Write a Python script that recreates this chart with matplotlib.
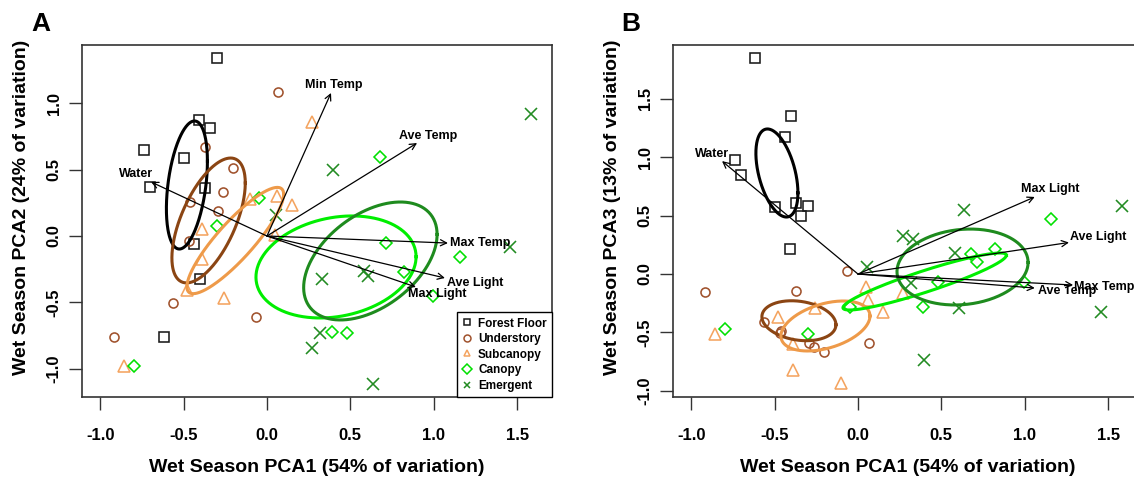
import numpy as np
import matplotlib
matplotlib.use('Agg')
import matplotlib.pyplot as plt
from matplotlib.lines import Line2D

plt.rcParams['font.family'] = ['Liberation Sans', 'DejaVu Sans']
plt.rcParams['axes.unicode_minus'] = False

groups = ['Forest Floor', 'Understory', 'Subcanopy', 'Canopy', 'Emergent']
point_colors = ['#1a1a1a', '#A0522D', '#F4A460', '#00E000', '#228B22']
ellipse_colors = ['#000000', '#8B4513', '#EE9A49', '#00EE00', '#1E8B1E']
markers = ['s', 'o', '^', 'D', 'x']
marker_sizes = [7.5, 6.5, 9, 6.5, 8]

# sample scores (PC1, PC2, PC3) per canopy stratum
floor_pc1 = [-0.30, -0.41, -0.34, -0.74, -0.50, -0.70, -0.37, -0.44, -0.40, -0.62]
floor_pc2 = [1.34, 0.87, 0.81, 0.65, 0.59, 0.37, 0.36, -0.06, -0.32, -0.76]
floor_pc3 = [0.58, 0.21, 0.50, 0.98, 0.57, 0.85, 0.61, 1.17, 1.35, 1.85]

under_pc1 = [0.066, -0.372, -0.204, -0.264, -0.294, -0.46, -0.47, -0.564, -0.92, -0.066]
under_pc2 = [1.084, 0.67, 0.512, 0.331, 0.188, 0.256, -0.04, -0.505, -0.76, -0.61]
under_pc3 = [-0.59, -0.146, -0.668, -0.625, -0.59, -0.49, -0.505, -0.41, -0.154, 0.026]

subcan_pc1 = [0.27, -0.10, 0.06, 0.15, -0.39, -0.39, -0.48, -0.258, -0.857, 0.048]
subcan_pc2 = [0.86, 0.28, 0.30, 0.23, 0.05, -0.17, -0.41, -0.47, -0.98, 0.007]
subcan_pc3 = [-0.165, -0.93, -0.22, -0.325, -0.60, -0.82, -0.37, -0.29, -0.51, -0.11]

canopy_pc1 = [0.677, -0.048, -0.30, -0.80, 0.713, 1.157, 0.82, 0.995, 0.39, 0.48]
canopy_pc2 = [0.595, 0.286, 0.075, -0.98, -0.053, -0.158, -0.27, -0.45, -0.72, -0.73]
canopy_pc3 = [0.17, -0.28, -0.51, -0.47, 0.10, 0.47, 0.21, -0.07, -0.28, -0.07]

emerg_pc1 = [1.583, 0.395, 0.054, 1.457, 0.33, 0.58, 0.605, 0.318, 0.27, 0.635]
emerg_pc2 = [0.92, 0.497, 0.158, -0.08, -0.32, -0.26, -0.30, -0.73, -0.84, -1.115]
emerg_pc3 = [0.58, -0.735, 0.06, -0.325, 0.30, 0.18, -0.29, -0.08, 0.325, 0.55]

# group ellipses: centre, half extent in x / y, correlation
ell_a_cx = [-0.48, -0.35, -0.19, 0.414, 0.62]
ell_a_cy = [0.384, 0.117, -0.034, -0.233, -0.188]
ell_a_hx = [0.123, 0.22, 0.29, 0.48, 0.40]
ell_a_hy = [0.482, 0.47, 0.40, 0.384, 0.444]
ell_a_r = [0.37, 0.6, 0.87, 0.2, 0.45]

ell_b_cx = [-0.486, -0.354, -0.195, 0.40, 0.627]
ell_b_cy = [0.865, -0.40, -0.445, -0.064, 0.06]
ell_b_hx = [0.126, 0.222, 0.267, 0.49, 0.393]
ell_b_hy = [0.377, 0.171, 0.214, 0.244, 0.325]
ell_b_r = [-0.45, -0.2, 0.4, 0.92, 0.12]

# environmental vectors
vars_a = ['Min Temp', 'Ave Temp', 'Max Temp', 'Ave Light', 'Max Light', 'Water']
arrow_a_x = [0.384, 0.90, 1.085, 1.067, 0.893, -0.695]
arrow_a_y = [1.077, 0.70, -0.053, -0.316, -0.384, 0.407]
label_a_x = [0.40, 0.965, 1.097, 1.079, 1.019, -0.785]
label_a_y = [1.14, 0.753, -0.053, -0.354, -0.437, 0.467]
label_a_ha = ['center', 'center', 'left', 'left', 'center', 'center']

vars_b = ['Water', 'Max Light', 'Ave Light', 'Ave Temp', 'Max Temp']
arrow_b_x = [-0.815, 1.06, 1.265, 1.06, 1.29]
arrow_b_y = [0.967, 0.66, 0.27, -0.12, -0.094]
label_b_x = [-0.875, 1.151, 1.271, 1.079, 1.295]
label_b_y = [1.027, 0.728, 0.317, -0.146, -0.111]
label_b_ha = ['center', 'center', 'left', 'left', 'left']

pc1 = [floor_pc1, under_pc1, subcan_pc1, canopy_pc1, emerg_pc1]
pc2 = [floor_pc2, under_pc2, subcan_pc2, canopy_pc2, emerg_pc2]
pc3 = [floor_pc3, under_pc3, subcan_pc3, canopy_pc3, emerg_pc3]


def draw_ellipse(ax, cx, cy, hx, hy, r, color):
    t = np.linspace(0, 2 * np.pi, 300)
    x = cx + hx * np.cos(t)
    y = cy + hy * (r * np.cos(t) + np.sqrt(1 - r * r) * np.sin(t))
    ax.plot(x, y, color=color, lw=2.2, zorder=3)


def draw_panel(ax, ys, ell, arrows, ylim, yticks, ylabel):
    for i in range(len(groups)):
        ax.plot(pc1[i], ys[i], linestyle='none', marker=markers[i],
                ms=marker_sizes[i], mfc='none', mec=point_colors[i],
                mew=1.15, zorder=2)
    cx, cy, hx, hy, rr = ell
    for i in range(len(groups)):
        draw_ellipse(ax, cx[i], cy[i], hx[i], hy[i], rr[i], ellipse_colors[i])
    names, ax_x, ax_y, lx, ly, lha = arrows
    for j in range(len(names)):
        ax.annotate('', xy=(ax_x[j], ax_y[j]), xytext=(0, 0),
                    arrowprops=dict(arrowstyle='->', lw=0.9, color='black',
                                    shrinkA=0, shrinkB=0, mutation_scale=11),
                    zorder=4)
        ax.text(lx[j], ly[j], names[j], ha=lha[j], va='center',
                fontsize=9, fontweight='bold', zorder=5)
    ax.set_xlim(-1.109, 1.709)
    ax.set_ylim(*ylim)
    ax.set_xticks([-1.0, -0.5, 0.0, 0.5, 1.0, 1.5])
    ax.set_xticklabels(['%.1f' % v for v in [-1.0, -0.5, 0.0, 0.5, 1.0, 1.5]],
                       fontweight='bold')
    ax.set_yticks(yticks)
    ax.set_yticklabels(['%.1f' % v for v in yticks], fontweight='bold',
                       rotation=90, va='center')
    ax.tick_params(length=9.5, width=1, labelsize=12, color='#333333')
    ax.tick_params(axis='x', pad=13)
    ax.tick_params(axis='y', pad=5)
    for s in ax.spines.values():
        s.set_linewidth(1.2)
        s.set_color('#333333')
    ax.set_xlabel('Wet Season PCA1 (54% of variation)', fontsize=14,
                  fontweight='bold', va='center')
    ax.xaxis.set_label_coords(0.5, -0.2017)
    ax.set_ylabel(ylabel, fontsize=14, fontweight='bold', va='center')
    ax.yaxis.set_label_coords(-0.128, 0.54)


fig = plt.figure(figsize=(11.34, 4.8), dpi=100)
ax_a = fig.add_axes([82 / 1134, 83 / 480, 470 / 1134, 352 / 480])
ax_b = fig.add_axes([673 / 1134, 83 / 480, 470 / 1134, 352 / 480])

draw_panel(ax_a, pc2,
           (ell_a_cx, ell_a_cy, ell_a_hx, ell_a_hy, ell_a_r),
           (vars_a, arrow_a_x, arrow_a_y, label_a_x, label_a_y, label_a_ha),
           (-1.212, 1.438), [-1.0, -0.5, 0.0, 0.5, 1.0],
           'Wet Season PCA2 (24% of variation)')
draw_panel(ax_b, pc3,
           (ell_b_cx, ell_b_cy, ell_b_hx, ell_b_hy, ell_b_r),
           (vars_b, arrow_b_x, arrow_b_y, label_b_x, label_b_y, label_b_ha),
           (-1.053, 1.961), [-1.0, -0.5, 0.0, 0.5, 1.0, 1.5],
           'Wet Season PCA3 (13% of variation)')

handles = [Line2D([], [], linestyle='none', marker=markers[i], ms=5,
                  mfc='none', mec=point_colors[i], mew=1.1)
           for i in range(len(groups))]
leg = ax_a.legend(handles, groups, loc='lower right', borderaxespad=0,
                  fancybox=False, framealpha=1, edgecolor='black',
                  prop={'size': 8.5, 'weight': 'bold'}, handlelength=0.8,
                  handletextpad=0.5, borderpad=0.45, labelspacing=0.3)
leg.get_frame().set_linewidth(1.0)
leg.set_zorder(6)

fig.text(41 / 1134, 1 - 24 / 480, 'A', fontsize=19, fontweight='bold',
         ha='center', va='center')
fig.text(631 / 1134, 1 - 24 / 480, 'B', fontsize=19, fontweight='bold',
         ha='center', va='center')

fig.savefig('out.png', dpi=100)
